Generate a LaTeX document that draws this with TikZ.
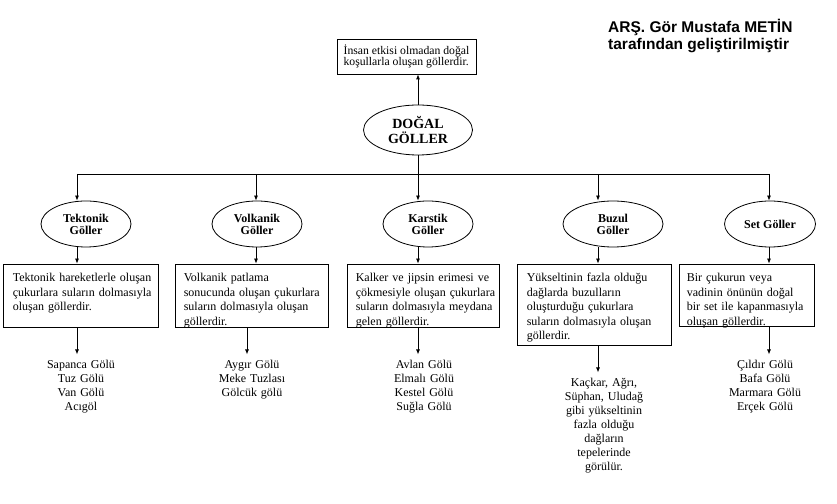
\documentclass[tikz,border=0pt]{standalone}
\usepackage{fontspec}
\setmainfont{Liberation Serif}
\newfontfamily\headfont{Liberation Sans}
\usetikzlibrary{arrows.meta,shapes.geometric}
\begin{document}
\begin{tikzpicture}[x=1pt,y=1pt,
  ok/.style={draw=drawColor,line width=0.8pt,-{Latex[length=5pt,width=4pt]}},
  cizgi/.style={draw=drawColor,line width=0.8pt},
  elips/.style={ellipse,draw=drawColor,line width=0.8pt,inner sep=0pt,minimum height=46pt,align=center,font=\bfseries\fontsize{12}{12}\selectfont},
  kutu/.style={rectangle,draw=drawColor,line width=0.8pt,inner sep=0pt,minimum height=63pt},
  yazi/.style={text=drawColor,anchor=base west,inner sep=0pt,text width=160pt,align=left,font=\fontsize{12}{14.5}\selectfont},
  liste/.style={text=drawColor,anchor=base,inner xsep=0pt,inner ysep=6pt,text width=110pt,align=center,font=\fontsize{12}{14}\selectfont},
  baslik/.style={text=drawColor,anchor=base west,inner sep=0pt,font=\headfont\bfseries\fontsize{15.5}{17}\selectfont}]
\definecolor{fillColor}{RGB}{255,255,255}
\definecolor{drawColor}{RGB}{0,0,0}
\path[use as bounding box,fill=fillColor] (0,0) rectangle (837,503);

\node[baslik] (baslik1) at (608,470) {ARŞ. Gör Mustafa METİN};

\node[baslik] (baslik2) at (608,453) {tarafından geliştirilmiştir};

% ana dal
\node[ellipse,draw=drawColor,line width=0.8pt,inner sep=0pt,minimum width=109pt,minimum height=50pt,align=center,font=\bfseries\fontsize{14}{15}\selectfont] (dogal) at (418,373) {DOĞAL\\GÖLLER};

\node[rectangle,draw=drawColor,line width=0.8pt,minimum width=139pt,minimum height=35pt,inner sep=0pt,align=left,font=\fontsize{11.7}{11.5}\selectfont] (tanim) at (406.5,446.5) {İnsan etkisi olmadan doğal\\koşullarla oluşan göllerdir.};

\draw[ok] (dogal.north) -- (dogal.north |- tanim.south);

\coordinate (k1) at ( 77,329);
\coordinate (k2) at (256,329);
\coordinate (k3) at (418,329);
\coordinate (k4) at (598,329);
\coordinate (k5) at (769,329);

\draw[cizgi] (dogal.south) -- (k3);

\draw[cizgi] (k1) -- (k5);

% gol turleri
\node[elips,minimum width=90pt] (tektonik) at ( 86,279) {Tektonik\\Göller};

\node[elips,minimum width=90pt] (volkanik) at (257,279) {Volkanik\\Göller};

\node[elips,minimum width=90pt] (karstik) at (428,279) {Karstik\\Göller};

\node[elips,minimum width=100pt] (buzul) at (613,279) {Buzul\\Göller};

\node[elips,minimum width=91pt] (setg) at (770,279) {Set Göller};

\draw[ok] (k1) -- (k1 |- tektonik.north);

\draw[ok] (k2) -- (k2 |- volkanik.north);

\draw[ok] (k3) -- (k3 |- karstik.north);

\draw[ok] (k4) -- (k4 |- buzul.north);

\draw[ok] (k5) -- (k5 |- setg.north);

% aciklama kutulari
\node[kutu,minimum width=155pt] (tektonikK) at ( 80.5,207.5) {};

\node[kutu,minimum width=153pt] (volkanikK) at (251.5,207.5) {};

\node[kutu,minimum width=152pt] (karstikK) at (423.0,207.5) {};

\node[kutu,minimum width=154pt,minimum height=81pt] (buzulK) at (594.0,198.5) {};

\node[kutu,minimum width=135pt,minimum height=62pt] (setK) at (746.5,208.0) {};

\node[yazi] (tektonikY) at ([xshift=10pt,yshift=-18pt]tektonikK.north west) {Tektonik hareketlerle oluşan\\çukurlara suların dolmasıyla\\oluşan göllerdir.};

\node[yazi] (volkanikY) at ([xshift=9pt,yshift=-18pt]volkanikK.north west) {Volkanik patlama\\sonucunda oluşan çukurlara\\suların dolmasıyla oluşan\\göllerdir.};

\node[yazi] (karstikY) at ([xshift=9pt,yshift=-18pt]karstikK.north west) {Kalker ve jipsin erimesi ve\\çökmesiyle oluşan çukurlara\\suların dolmasıyla meydana\\gelen göllerdir.};

\node[yazi] (buzulY) at ([xshift=10pt,yshift=-18pt]buzulK.north west) {Yükseltinin fazla olduğu\\dağlarda buzulların\\oluşturduğu çukurlara\\suların dolmasıyla oluşan\\göllerdir.};

\node[yazi] (setY) at ([xshift=8pt,yshift=-18pt]setK.north west) {Bir çukurun veya\\vadinin önünün doğal\\bir set ile kapanmasıyla\\oluşan göllerdir.};

\draw[ok] (tektonik.south -| k1) -- (tektonikK.north -| k1);

\draw[ok] (volkanik.south -| k2) -- (volkanikK.north -| k2);

\draw[ok] (karstik.south -| k3) -- (karstikK.north -| k3);

\draw[ok] (buzul.south -| k4) -- (buzulK.north -| k4);

\draw[ok] (setg.south -| k5) -- (setK.north -| k5);

% ornek goller
\node[liste] (tektonikL) at ( 81,134) {Sapanca Gölü\\Tuz Gölü\\Van Gölü\\Acıgöl};

\node[liste] (volkanikL) at (252,134) {Aygır Gölü\\Meke Tuzlası\\Gölcük gölü};

\node[liste] (karstikL) at (424,134) {Avlan Gölü\\Elmalı Gölü\\Kestel Gölü\\Suğla Gölü};

\node[liste] (buzulL) at (604,116) {Kaçkar, Ağrı,\\Süphan, Uludağ\\gibi yükseltinin\\fazla olduğu\\dağların\\tepelerinde\\görülür.};

\node[liste] (setL) at (765,134) {Çıldır Gölü\\Bafa Gölü\\Marmara Gölü\\Erçek Gölü};

\draw[ok] (tektonikK.south -| k1) -- (tektonikL.north -| k1);

\draw[ok] ([xshift=-9pt]volkanikK.south -| k2) -- ([xshift=-9pt]volkanikL.north -| k2);

\draw[ok] (karstikK.south -| k3) -- (karstikL.north -| k3);

\draw[ok] (buzulK.south -| k4) -- (buzulL.north -| k4);

\draw[ok] (setK.south -| k5) -- (setL.north -| k5);
\end{tikzpicture}
\end{document}
